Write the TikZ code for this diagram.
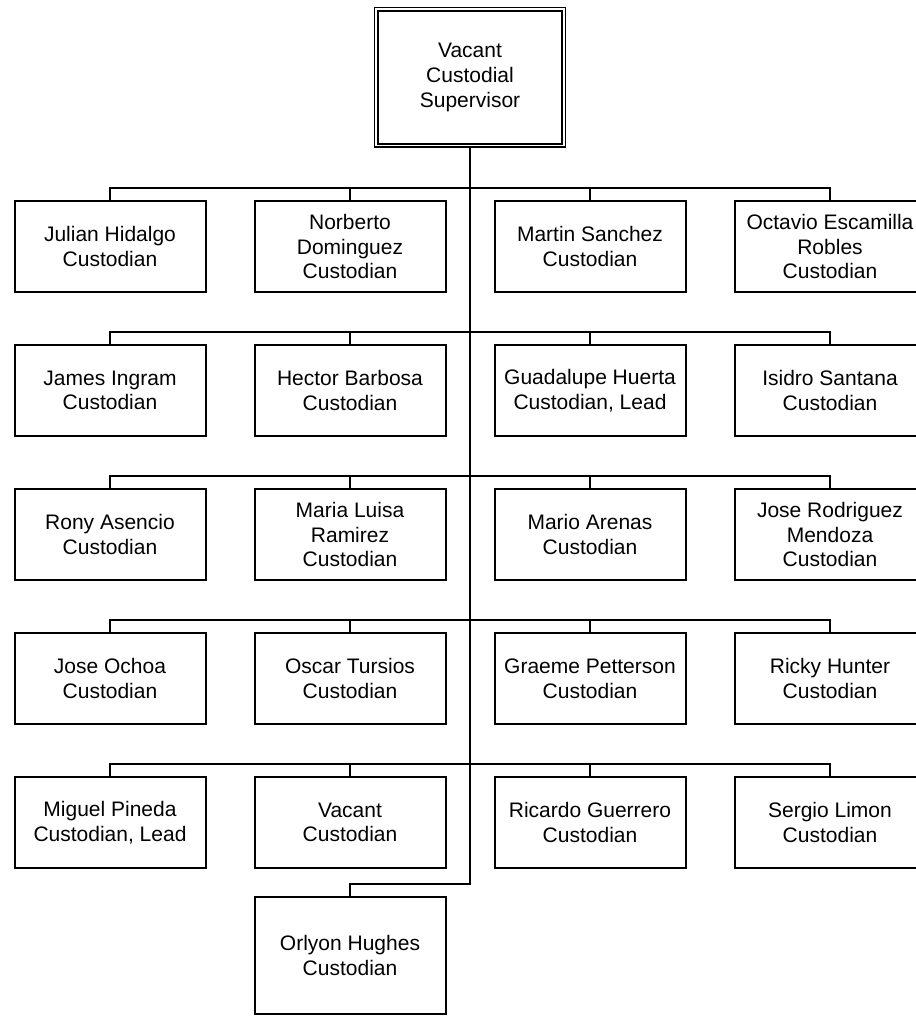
\documentclass[tikz,border=0pt]{standalone}
\usepackage{fontspec}
\setmainfont{Liberation Sans}
\usetikzlibrary{calc}

\begin{document}
\begin{tikzpicture}[x=0.75pt, y=-0.75pt,
    staff/.style={draw=borderColour, line width=1.5pt, rectangle, align=center,
        minimum width=143.25pt, minimum height=68.25pt, inner sep=0pt,
        font=\fontsize{15.75}{18.5}\selectfont},
    chief/.style={staff, line width=1.1pt, double, double distance=1.3pt,
        minimum width=140.5pt, minimum height=102.2pt},
    link/.style={draw=borderColour, line width=1.5pt}]
    % Define colours
    \definecolor{borderColour}{HTML}{000000}

    % Fix the page size
    \useasboundingbox (0,0) rectangle (916,1016);

    % Supervisor
    \node[chief] (sup) at (470,77.5) {Vacant\\Custodial\\Supervisor};

    % Row 1
    \node[staff] (n11) at (110,246.5) {Julian Hidalgo\\Custodian};
    \node[staff] (n12) at (350,246.5) {Norberto\\Dominguez\\Custodian};
    \node[staff] (n13) at (590,246.5) {Martin Sanchez\\Custodian};
    \node[staff] (n14) at (830,246.5) {Octavio Escamilla\\Robles\\Custodian};

    % Row 2
    \node[staff] (n21) at (110,390.5) {James Ingram\\Custodian};
    \node[staff] (n22) at (350,390.5) {Hector Barbosa\\Custodian};
    \node[staff] (n23) at (590,390.5) {Guadalupe Huerta\\Custodian, Lead};
    \node[staff] (n24) at (830,390.5) {Isidro Santana\\Custodian};

    % Row 3
    \node[staff] (n31) at (110,534.5) {Rony Asencio\\Custodian};
    \node[staff] (n32) at (350,534.5) {Maria Luisa\\Ramirez\\Custodian};
    \node[staff] (n33) at (590,534.5) {Mario Arenas\\Custodian};
    \node[staff] (n34) at (830,534.5) {Jose Rodriguez\\Mendoza\\Custodian};

    % Row 4
    \node[staff] (n41) at (110,678.5) {Jose Ochoa\\Custodian};
    \node[staff] (n42) at (350,678.5) {Oscar Tursios\\Custodian};
    \node[staff] (n43) at (590,678.5) {Graeme Petterson\\Custodian};
    \node[staff] (n44) at (830,678.5) {Ricky Hunter\\Custodian};

    % Row 5
    \node[staff] (n51) at (110,822.5) {Miguel Pineda\\Custodian, Lead};
    \node[staff] (n52) at (350,822.5) {Vacant\\Custodian};
    \node[staff] (n53) at (590,822.5) {Ricardo Guerrero\\Custodian};
    \node[staff] (n54) at (830,822.5) {Sergio Limon\\Custodian};

    % Last one
    \node[staff, minimum height=87.75pt] (n61) at (350,955.5) {Orlyon Hughes\\Custodian};

    % Bus points on the trunk
    \foreach \r in {1,...,5}
        \coordinate (bus\r) at (470,{188+144*(\r-1)});
    \coordinate (jog) at (470,884);

    % Draw trunk
    \draw[link] (sup.south) -- (jog) -| (n61.north);

    % Draw branches
    \foreach \r in {1,...,5}
        \foreach \c in {1,...,4}
            \draw[link] (n\r\c.north) |- (bus\r);

\end{tikzpicture}
\end{document}
